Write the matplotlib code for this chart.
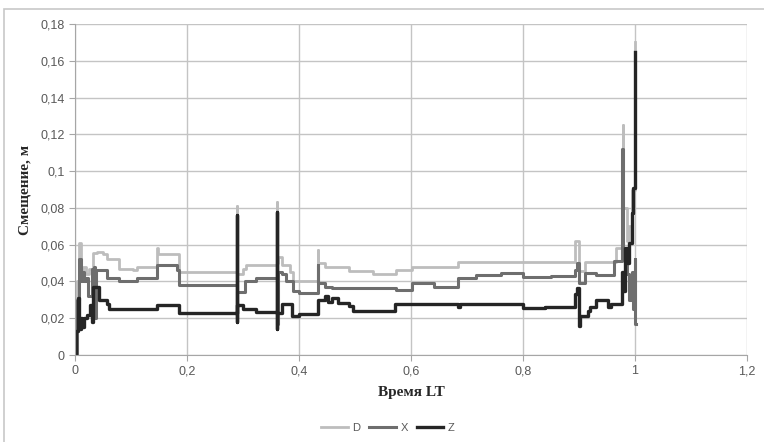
import numpy as np
import matplotlib.pyplot as plt
from matplotlib.patches import Rectangle
from matplotlib.ticker import FuncFormatter, MultipleLocator

# breakpoints of the step curves (time LT, displacement m)
d_t = [0.000, 0.004, 0.008, 0.010, 0.014, 0.020, 0.025, 0.033, 0.040, 0.050,
       0.057, 0.078, 0.104, 0.110, 0.146, 0.148, 0.185, 0.289, 0.2895, 0.300,
       0.306, 0.360, 0.3605, 0.362, 0.369, 0.384, 0.390, 0.434, 0.4345, 0.446,
       0.490, 0.532, 0.573, 0.602, 0.684, 0.800, 0.893, 0.900, 0.910, 0.966,
       0.978, 0.979, 0.985, 0.990, 0.995, 1.000, 1.0005]
d_v = [0.000, 0.040, 0.061, 0.045, 0.048, 0.044, 0.047, 0.0555, 0.056, 0.055,
       0.052, 0.047, 0.046, 0.048, 0.058, 0.055, 0.045, 0.081, 0.044, 0.047,
       0.049, 0.083, 0.050, 0.0535, 0.049, 0.045, 0.040, 0.057, 0.050, 0.048,
       0.0455, 0.044, 0.046, 0.048, 0.0505, 0.0505, 0.062, 0.0455, 0.0508, 0.058,
       0.125, 0.080, 0.062, 0.070, 0.090, 0.170, 0.170]

x_t = [0.000, 0.003, 0.008, 0.010, 0.013, 0.016, 0.020, 0.024, 0.030, 0.034,
       0.036, 0.038, 0.057, 0.078, 0.104, 0.110, 0.146, 0.182, 0.185, 0.289,
       0.2895, 0.303, 0.324, 0.360, 0.3605, 0.362, 0.369, 0.376, 0.390, 0.400,
       0.434, 0.4345, 0.446, 0.459, 0.573, 0.602, 0.641, 0.684, 0.716, 0.760,
       0.800, 0.850, 0.893, 0.897, 0.900, 0.910, 0.930, 0.962, 0.977, 0.978,
       0.985, 0.990, 0.994, 0.997, 1.000, 1.0005, 1.001]
x_v = [0.000, 0.030, 0.052, 0.040, 0.045, 0.040, 0.042, 0.032, 0.047, 0.048,
       0.020, 0.046, 0.042, 0.040, 0.0405, 0.042, 0.049, 0.046, 0.038, 0.020,
       0.034, 0.040, 0.042, 0.050, 0.017, 0.045, 0.044, 0.0405, 0.035, 0.0335,
       0.049, 0.039, 0.037, 0.0365, 0.0355, 0.039, 0.037, 0.042, 0.0435, 0.0445,
       0.0425, 0.043, 0.046, 0.050, 0.039, 0.0445, 0.0435, 0.051, 0.112, 0.055,
       0.044, 0.030, 0.045, 0.025, 0.052, 0.017, 0.017]

z_t = [0.000, 0.002, 0.005, 0.007, 0.010, 0.013, 0.016, 0.022, 0.027, 0.031,
       0.032, 0.043, 0.057, 0.060, 0.146, 0.185, 0.289, 0.2895, 0.290, 0.300,
       0.324, 0.360, 0.3605, 0.361, 0.369, 0.387, 0.400, 0.434, 0.446, 0.452,
       0.459, 0.470, 0.490, 0.496, 0.571, 0.684, 0.688, 0.800, 0.840, 0.893,
       0.897, 0.900, 0.902, 0.916, 0.920, 0.930, 0.952, 0.958, 0.976, 0.979,
       0.982, 0.986, 0.990, 0.994, 0.997, 1.000, 1.0005]
z_v = [0.000, 0.013, 0.031, 0.014, 0.020, 0.015, 0.020, 0.022, 0.027, 0.018,
       0.037, 0.030, 0.028, 0.025, 0.027, 0.023, 0.076, 0.018, 0.027, 0.025,
       0.0235, 0.078, 0.014, 0.023, 0.028, 0.021, 0.0225, 0.030, 0.032, 0.029,
       0.031, 0.0285, 0.0265, 0.0238, 0.028, 0.026, 0.0275, 0.0255, 0.026, 0.033,
       0.0365, 0.0155, 0.021, 0.024, 0.026, 0.030, 0.026, 0.028, 0.045, 0.035,
       0.058, 0.050, 0.061, 0.077, 0.091, 0.165, 0.165]

fig = plt.figure(figsize=(7.64, 4.42), dpi=100)
ax = fig.add_axes([75 / 764, 87 / 442, 672 / 764, 331 / 442])

# chart area frame (only its left and top edges fall inside the picture)
fig.patches.append(Rectangle((4 / 764, -0.1), 1.2, 0.1 + 433 / 442,
                             transform=fig.transFigure, fill=False,
                             edgecolor='#c8c8c8', linewidth=1.2))

ax.plot(d_t, d_v, drawstyle='steps-post', color='#bdbdbd', lw=2, label='D')
ax.plot(x_t, x_v, drawstyle='steps-post', color='#6e6e6e', lw=2.2, label='X')
ax.plot(z_t, z_v, drawstyle='steps-post', color='#252525', lw=2.4, label='Z')

ax.set_xlim(0, 1.2)
ax.set_ylim(0, 0.18)
ax.xaxis.set_major_locator(MultipleLocator(0.2))
ax.yaxis.set_major_locator(MultipleLocator(0.02))
fmt = FuncFormatter(lambda v, p: f"{round(v, 2):g}".replace('.', ','))
ax.xaxis.set_major_formatter(fmt)
ax.yaxis.set_major_formatter(fmt)

ax.grid(True, color='#c4c4c4', lw=1)
ax.set_axisbelow(True)
for s in ['top', 'right']:
    ax.spines[s].set_visible(False)
for s in ['left', 'bottom']:
    ax.spines[s].set_color('#a6a6a6')
ax.tick_params(colors='#a6a6a6', length=4, labelcolor='#595959', labelsize=9)
for lab in ax.get_xticklabels() + ax.get_yticklabels():
    lab.set_family('Liberation Sans')

ax.set_xlabel('Время LT', family='Liberation Serif', fontweight='bold',
              fontsize=11, color='#262626', labelpad=6)
ax.set_ylabel('Смещение, м', family='Liberation Serif', fontweight='bold',
              fontsize=11, color='#262626', labelpad=6)

ax.legend(loc='center', bbox_to_anchor=(388 / 764, 14 / 442),
          bbox_transform=fig.transFigure, ncol=3, frameon=False,
          handlelength=2.4, handletextpad=0.4, columnspacing=0.8,
          prop={'family': 'Liberation Sans', 'size': 8}, labelcolor='#595959')

fig.savefig('out.png', dpi=100)
